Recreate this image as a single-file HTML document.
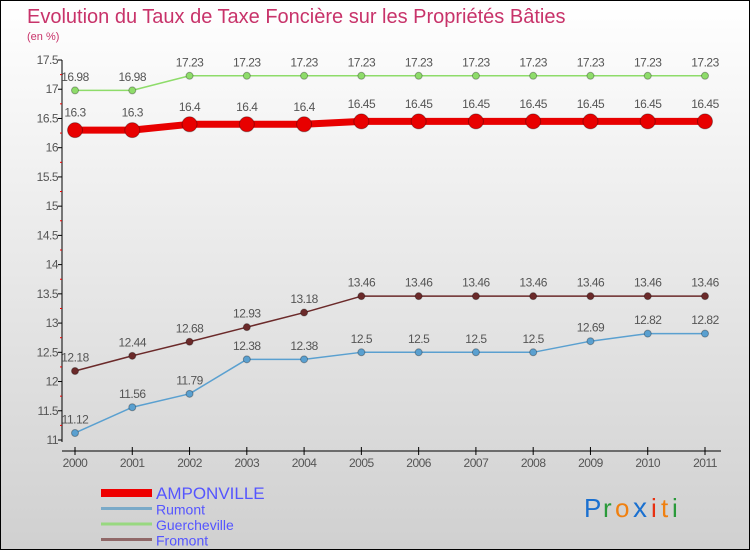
<!DOCTYPE html>
<html><head><meta charset="utf-8"><style>
body{margin:0}
#wrap{width:748px;height:548px;border:1px solid #000;background:linear-gradient(#ffffff,#d0d0d0);position:relative;font-family:"Liberation Sans",sans-serif;overflow:hidden}
</style></head><body>
<div id="wrap">
<svg id="chart" width="748" height="548"></svg>
</div>
<script>
const years=["2000","2001","2002","2003","2004","2005","2006","2007","2008","2009","2010","2011"];
const amponville=[16.3,16.3,16.4,16.4,16.4,16.45,16.45,16.45,16.45,16.45,16.45,16.45];
const rumont=[11.12,11.56,11.79,12.38,12.38,12.5,12.5,12.5,12.5,12.69,12.82,12.82];
const guercheville=[16.98,16.98,17.23,17.23,17.23,17.23,17.23,17.23,17.23,17.23,17.23,17.23];
const fromont=[12.18,12.44,12.68,12.93,13.18,13.46,13.46,13.46,13.46,13.46,13.46,13.46];
const yTicks=["11","11.5","12","12.5","13","13.5","14","14.5","15","15.5","16","16.5","17","17.5"];
const NS="http://www.w3.org/2000/svg";
const svg=document.getElementById('chart');
const yMin=11,yMax=17.5,yTop=59,yBot=439,x0=74,x1=704;
const X=i=>x0+i*(x1-x0)/(years.length-1);
const Y=v=>yBot-(v-yMin)/(yMax-yMin)*(yBot-yTop);
function mk(t,a,txt){const e=document.createElementNS(NS,t);for(const k in a)e.setAttribute(k,a[k]);if(txt!==undefined)e.textContent=txt;svg.appendChild(e);return e;}
let e;
e=mk('text',{x:26,y:22,'font-size':20,fill:'#c8336a'},'Evolution du Taux de Taxe Foncière sur les Propriétés Bâties');

e=mk('text',{x:26,y:39,'font-size':11,fill:'#c8336a'},'(en %)');

e=mk('line',{x1:61,y1:yTop,x2:61,y2:yBot+2,stroke:'#000','stroke-width':1});

e=mk('line',{x1:61,y1:450,x2:720,y2:450,stroke:'#000','stroke-width':1});

yTicks.forEach((t,i)=>{const v=parseFloat(t),y=Y(v);
 e=mk('line',{x1:57,y1:y,x2:61,y2:y,stroke:'#000'});
 
 e=mk('text',{x:57,y:y+4,'font-size':12,fill:'#555','text-anchor':'end','letter-spacing':'-0.5'},t);
 
 if(i<yTicks.length-1){const ym=Y(v+0.25);e=mk('line',{x1:59,y1:ym,x2:61,y2:ym,stroke:'#e00'});
 }
});
years.forEach((t,i)=>{const x=X(i);
 e=mk('line',{x1:x,y1:446,x2:x,y2:454,stroke:'#000'});
 
 e=mk('text',{x:x,y:466,'font-size':12,fill:'#555','text-anchor':'middle','letter-spacing':'-0.5'},t);
 
});
function series(name,vals,color,w,r){
 const pts=vals.map((v,i)=>X(i)+','+Y(v)).join(' ');
 e=mk('polyline',{points:pts,fill:'none',stroke:color,'stroke-width':w,'stroke-linejoin':'round'});
 
 vals.forEach((v,i)=>{
  e=mk('circle',{cx:X(i),cy:Y(v),r:r,fill:color,stroke:'rgba(0,0,0,0.3)','stroke-width':1});
  
  e=mk('text',{x:X(i),y:Y(v)-(r+6),'font-size':12,fill:'#555','text-anchor':'middle','letter-spacing':'-0.5'},String(v));
  
 });
}
series('guercheville',guercheville,'#8edc6a',1.5,3.5);
series('amponville',amponville,'#e80000',7,7.5);
series('fromont',fromont,'#6b2a2a',1.5,3.5);
series('rumont',rumont,'#5aa0d0',1.5,3.5);
const leg=[['AMPONVILLE','#ee0000',8,17],['Rumont','#7aaac8',3,14],['Guercheville','#98d880',3,14],['Fromont','#906868',3,14]];
leg.forEach((l,i)=>{const y=492+i*15.5;
 e=mk('line',{x1:100,y1:y,x2:151,y2:y,stroke:l[1],'stroke-width':l[2]});
 
 e=mk('text',{x:155,y:y+6,'font-size':l[3],fill:'#5555ff'},l[0]);
 
});
const logo=[['P','#1a70d0'],['r','#2a9a3a'],['o','#f08010'],['x','#1a70d0'],['i','#e83010'],['t','#f08010'],['i','#2a9a3a']];
let lx=583;
logo.forEach(c=>{e=mk('text',{x:lx,y:516,'font-size':c[0]=='x'?28:26,fill:c[1],'font-family':'Liberation Sans, sans-serif'},c[0]);
 
 lx+= c[0]=='i'?10:(c[0]=='t'?11:(c[0]=='r'?12:(c[0]=='P'?19:18)));});
</script>
</body></html>
